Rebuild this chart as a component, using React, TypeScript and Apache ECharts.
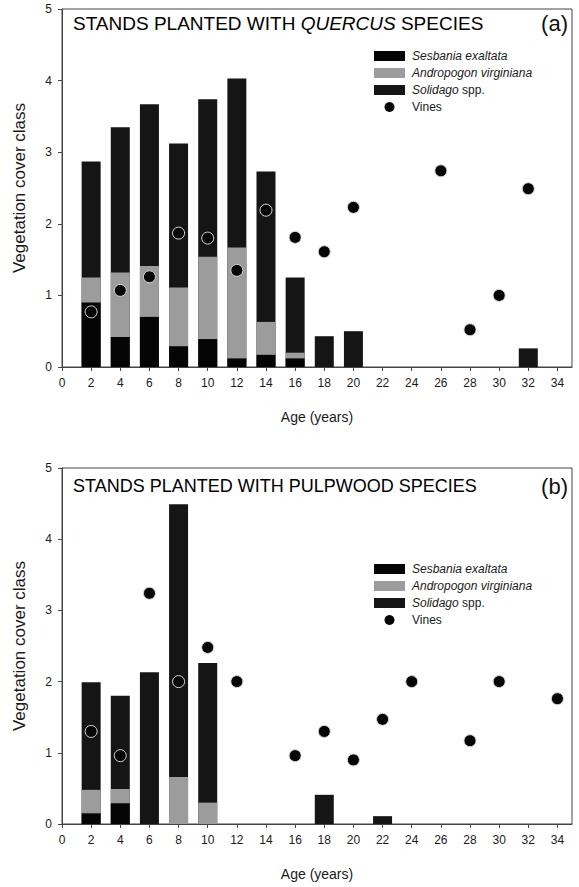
import React, { useEffect, useRef } from "react";
import * as echarts from "echarts";

// Stand age (years) for each bar column, with the cover of each component
const agesA = [2, 4, 6, 8, 10, 12, 14, 16, 18, 20, 32];
const sesbaniaA = [0.9, 0.42, 0.7, 0.29, 0.39, 0.12, 0.17, 0.12, 0, 0, 0];
const andropogonA = [0.35, 0.9, 0.71, 0.82, 1.15, 1.55, 0.46, 0.08, 0, 0, 0];
const solidagoA = [1.62, 2.03, 2.26, 2.01, 2.2, 2.36, 2.1, 1.05, 0.43, 0.5, 0.26];
const vineAgesA = [2, 4, 6, 8, 10, 12, 14, 16, 18, 20, 26, 28, 30, 32];
const vinesA = [0.77, 1.07, 1.26, 1.87, 1.8, 1.35, 2.19, 1.81, 1.61, 2.23, 2.74, 0.52, 1.0, 2.49];

const agesB = [2, 4, 6, 8, 10, 18, 22];
const sesbaniaB = [0.15, 0.29, 0, 0, 0, 0, 0];
const andropogonB = [0.33, 0.2, 0, 0.66, 0.3, 0, 0];
const solidagoB = [1.51, 1.31, 2.13, 3.83, 1.96, 0.41, 0.11];
const vineAgesB = [2, 4, 6, 8, 10, 12, 16, 18, 20, 22, 24, 28, 30, 34];
const vinesB = [1.3, 0.96, 3.24, 2.0, 2.48, 2.0, 0.96, 1.3, 0.9, 1.47, 2.0, 1.17, 2.0, 1.76];

const seriesNames = ["Sesbania exaltata", "Andropogon virginiana", "Solidago spp.", "Vines"];
const xTitle = "Age (years)";
const yTitle = "Vegetation cover class";

const FONT = 'Arial, "Liberation Sans", sans-serif';
const INK = "#1a1a1a";
const COLORS = ["#050505", "#9c9c9c", "#151515", "#050505"];

// Running totals so each component sits on top of the ones below it
const cumulative = (...layers: number[][]) =>
  layers[0].map((_, i) => layers.reduce((s, l) => s + l[i], 0));
const pairs = (xs: number[], ys: number[]) => xs.map((x, i) => [x, ys[i]]);

function panelAxes(gridIndex: number) {
  const x = {
    type: "value",
    gridIndex,
    min: 0,
    max: 35,
    interval: 2,
    name: xTitle,
    nameLocation: "middle",
    nameGap: 43,
    nameTextStyle: { fontFamily: FONT, fontSize: 14, color: INK },
    axisLine: { show: true, lineStyle: { color: "#444", width: 1 } },
    axisTick: { show: true, inside: false, length: 4, lineStyle: { color: "#444" } },
    axisLabel: { fontFamily: FONT, fontSize: 12, color: INK, margin: 10, showMaxLabel: false },
    splitLine: { show: false },
  };
  const y = {
    type: "value",
    gridIndex,
    min: 0,
    max: 5,
    interval: 1,
    name: yTitle,
    nameLocation: "middle",
    nameGap: 34,
    nameTextStyle: { fontFamily: FONT, fontSize: 17, color: INK },
    axisLine: { show: true, lineStyle: { color: "#444", width: 1 } },
    axisTick: { show: true, inside: false, length: 4, lineStyle: { color: "#444" } },
    axisLabel: { fontFamily: FONT, fontSize: 12, color: INK, margin: 10 },
    splitLine: { show: false },
  };
  return { x, y };
}

function panelSeries(
  idx: number,
  ages: number[],
  ses: number[],
  andr: number[],
  sol: number[],
  vineAges: number[],
  vines: number[]
) {
  const bar = (name: string, vals: number[], color: string, z: number) => ({
    type: "bar",
    name,
    xAxisIndex: idx,
    yAxisIndex: idx,
    barWidth: 19,
    barGap: "-100%",
    itemStyle: { color },
    data: pairs(ages, vals),
    z,
  });
  return [
    bar(seriesNames[2], cumulative(ses, andr, sol), COLORS[2], 2),
    bar(seriesNames[1], cumulative(ses, andr), COLORS[1], 3),
    bar(seriesNames[0], cumulative(ses), COLORS[0], 4),
    {
      type: "scatter",
      name: seriesNames[3],
      xAxisIndex: idx,
      yAxisIndex: idx,
      symbol: "circle",
      symbolSize: 12,
      itemStyle: { color: COLORS[3], opacity: 1, borderColor: "#d8d8d8", borderWidth: 1 },
      data: pairs(vineAges, vines),
      z: 6,
    },
  ];
}

const legendRich = {
  i: { fontFamily: FONT, fontSize: 12, fontStyle: "italic", color: INK },
  n: { fontFamily: FONT, fontSize: 12, color: INK },
};
const legendFormatter = (name: string) => {
  if (name === "Solidago spp.") return "{i|Solidago} {n|spp.}";
  if (name === "Vines") return "{n|Vines}";
  return `{i|${name}}`;
};

function legend(top: number) {
  return {
    orient: "vertical",
    left: 369,
    top,
    itemWidth: 31,
    itemHeight: 10,
    itemGap: 5,
    selectedMode: false,
    data: seriesNames.map((n, i) => ({
      name: n,
      icon: i === 3 ? "circle" : "rect",
      itemStyle: { color: COLORS[i], borderWidth: 0, opacity: 1 },
    })),
    formatter: legendFormatter,
    textStyle: { rich: legendRich, padding: [0, 0, 0, 2] },
  };
}

const titleRich = (size: number) => ({
  n: { fontFamily: FONT, fontSize: size, color: "#111" },
  i: { fontFamily: FONT, fontSize: size, fontStyle: "italic", color: "#111" },
});

function titleTexts(y: number, text: string, tag: string, size: number) {
  return [
    {
      type: "text",
      left: 73,
      top: y,
      style: { text, rich: titleRich(size) },
    },
    {
      type: "text",
      right: 11,
      top: y - 2,
      style: { text: tag, fontFamily: FONT, fontSize: 22, fill: "#111" },
    },
  ];
}

export default function App() {
  const ref = useRef<HTMLDivElement>(null);

  useEffect(() => {
    if (!ref.current) return;
    const chart = echarts.init(ref.current, null, { renderer: "svg" });
    const a = panelAxes(0);
    const b = panelAxes(1);
    chart.setOption({
      animation: false,
      backgroundColor: "#ffffff",
      grid: [
        { left: 62, right: 7, top: 9, height: 358, show: true, borderColor: "#444", borderWidth: 1 },
        { left: 62, right: 7, top: 468, height: 356, show: true, borderColor: "#444", borderWidth: 1 },
      ],
      xAxis: [a.x, b.x],
      yAxis: [a.y, b.y],
      legend: [legend(45), legend(558)],
      graphic: [
        ...titleTexts(14, "{n|STANDS PLANTED WITH }{i|QUERCUS}{n| SPECIES}", "(a)", 19),
        ...titleTexts(477, "{n|STANDS PLANTED WITH PULPWOOD SPECIES}", "(b)", 18),
      ],
      series: [
        ...panelSeries(0, agesA, sesbaniaA, andropogonA, solidagoA, vineAgesA, vinesA),
        ...panelSeries(1, agesB, sesbaniaB, andropogonB, solidagoB, vineAgesB, vinesB),
      ],
    });
    return () => chart.dispose();
  }, []);

  return (
    <div
      ref={ref}
      style={{ position: "absolute", left: 0, top: 0, width: 579, height: 887, background: "#fff" }}
    />
  );
}
